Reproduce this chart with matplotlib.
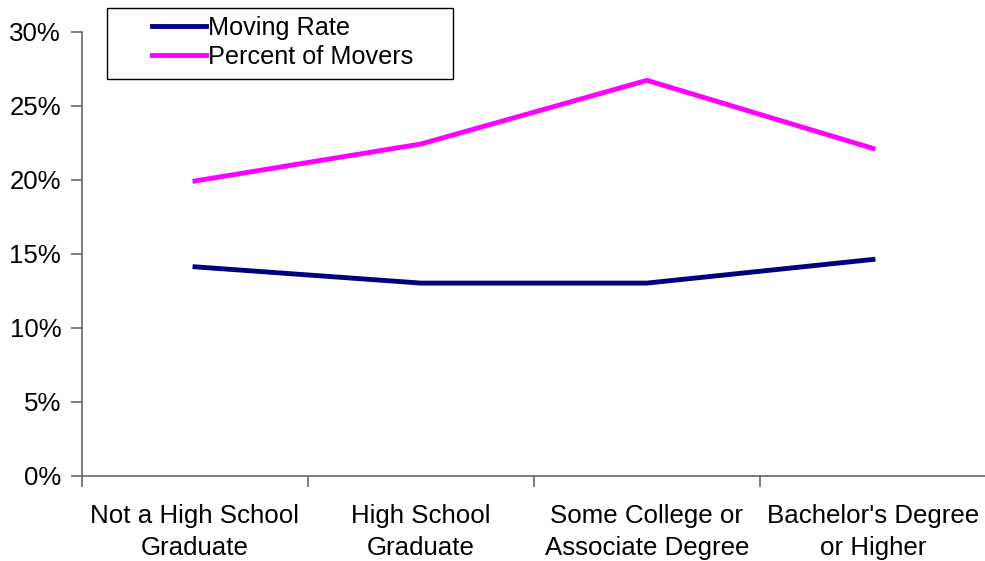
import matplotlib
matplotlib.use("Agg")
import matplotlib.pyplot as plt
from matplotlib.patches import Rectangle
from matplotlib.ticker import FixedLocator, PercentFormatter

plt.rcParams['font.family'] = ['Liberation Sans', 'DejaVu Sans']

categories = ["Not a High School\nGraduate", "High School\nGraduate",
              "Some College or\nAssociate Degree", "Bachelor's Degree\nor Higher"]
moving_rate = [14.1, 13.0, 13.0, 14.6]
percent_of_movers = [19.9, 22.4, 26.7, 22.1]
y_ticks = [0, 5, 10, 15, 20, 25, 30]

FS = 18.6
W, H = 985, 561
fig = plt.figure(figsize=(W / 100, H / 100), dpi=100)
ax = fig.add_axes([82 / W, (H - 475.5) / H, 904 / W, 444 / H])

x = list(range(len(categories)))
ax.plot(x, moving_rate, color='#000080', lw=3.5, label='Moving Rate', solid_joinstyle='round')
ax.plot(x, percent_of_movers, color='#FF00FF', lw=3.5, label='Percent of Movers', solid_joinstyle='round')

ax.set_xlim(-0.5, len(categories) - 0.5)
ax.set_ylim(0, 30)
ax.yaxis.set_major_locator(FixedLocator(y_ticks))
ax.yaxis.set_major_formatter(PercentFormatter(decimals=0))

# category labels centred, ticks on the boundaries between categories
ax.set_xticks(x)
ax.set_xticklabels(categories, fontsize=FS, linespacing=1.42)
ax.tick_params(axis='x', length=0, pad=20.5)
ax.set_xticks([i - 0.5 for i in range(len(categories) + 1)], minor=True)
ax.tick_params(axis='x', which='minor', length=8, width=1.2, color='#666666')
ax.tick_params(axis='y', length=8, width=1.2, color='#666666', pad=7, labelsize=FS)

for side in ('top', 'right'):
    ax.spines[side].set_visible(False)
for side in ('left', 'bottom'):
    ax.spines[side].set_color('#666666')
    ax.spines[side].set_linewidth(1.2)

# legend box
fig.patches.append(Rectangle((107 / W, 1 - 79 / H), 346 / W, 71 / H,
                             transform=fig.transFigure, fill=False,
                             edgecolor='black', lw=1.0))
fig.legend(loc='upper left', bbox_to_anchor=(152 / W, 1 - 15.5 / H),
           frameon=False, borderpad=0, borderaxespad=0, fontsize=18.2,
           handlelength=2.15, handletextpad=0.05, labelspacing=0.22)

fig.savefig('out.png', dpi=100)
